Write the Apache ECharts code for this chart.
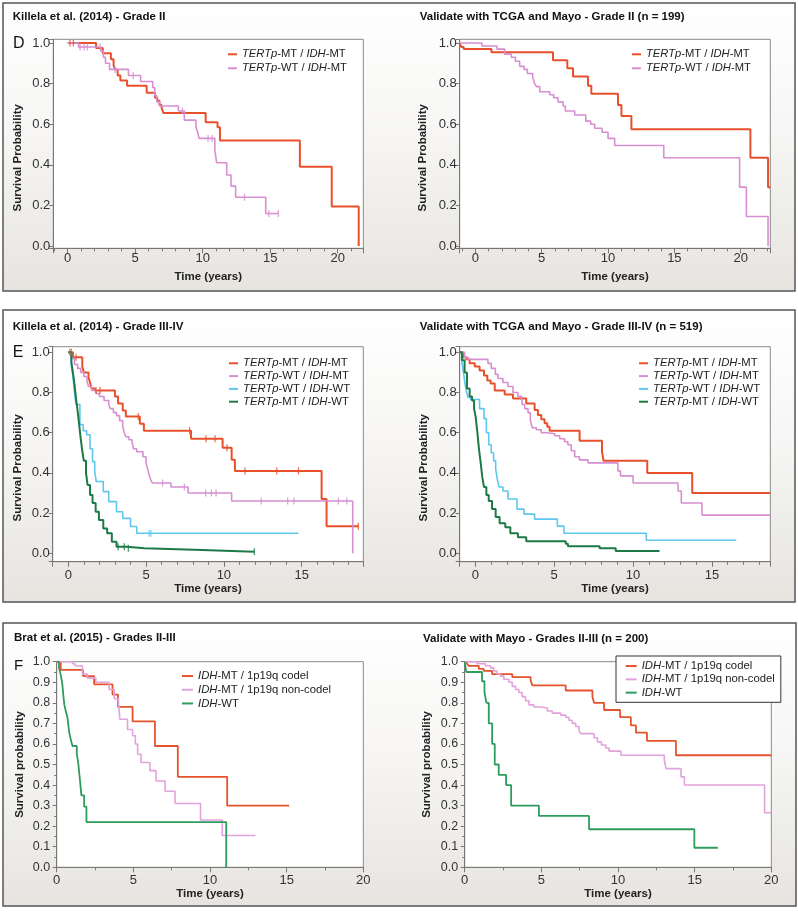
<!DOCTYPE html>
<html><head><meta charset="utf-8">
<script src="https://cdn.jsdelivr.net/npm/echarts@6/dist/echarts.min.js"></script>
<style>html,body{margin:0;padding:0;background:#fff}#c{width:798px;height:912px}</style>
</head><body><div id="c"></div>
<script>
const FONT = '"Liberation Sans", Arial, Helvetica, sans-serif';

// ---------- titles / labels ----------
const panelTitles = [
  'Killela et al. (2014) - Grade II', 'Validate with TCGA and Mayo - Grade II (n = 199)',
  'Killela et al. (2014) - Grade III-IV', 'Validate with TCGA and Mayo - Grade III-IV (n = 519)',
  'Brat et al. (2015) - Grades II-III', 'Validate with Mayo - Grades II-III (n = 200)'
];
const panelLetters = ['D', 'E', 'F'];
const xName = 'Time (years)';
const yNameDE = 'Survival Probability';
const yNameF = 'Survival probability';
const namesDE = ['TERTp-MT / IDH-MT', 'TERTp-WT / IDH-MT', 'TERTp-WT / IDH-WT', 'TERTp-MT / IDH-WT'];
const namesF = ['IDH-MT / 1p19q codel', 'IDH-MT / 1p19q non-codel', 'IDH-WT'];

// ---------- D left: Killela Grade II ----------
const D_L_MT = [[0,1],[2.1,0.975],[2.6,0.95],[3.2,0.92],[3.4,0.89],[3.5,0.87],[3.7,0.84],[3.9,0.815],[4.4,0.79],[5.85,0.755],[6.47,0.73],[6.64,0.715],[6.8,0.695],[6.96,0.68],[7.09,0.655],[10.22,0.61],[11.1,0.585],[11.28,0.52],[17.2,0.39],[19.56,0.195],[21.56,0.0]];
const D_L_WT = [[0,1],[0.8,0.98],[2.45,0.96],[2.65,0.93],[2.8,0.9],[3.1,0.87],[4.5,0.84],[5.4,0.81],[6.3,0.78],[6.45,0.74],[6.6,0.71],[6.8,0.69],[8.2,0.665],[8.64,0.62],[9.5,0.585],[9.63,0.56],[9.73,0.53],[10.9,0.47],[11.04,0.41],[11.78,0.35],[12.1,0.295],[12.44,0.24],[14.67,0.16],[15.6,0.16]];
const D_L_MT_CENS = [[0.17,1],[0.42,1]];
const D_L_WT_CENS = [[0.91,0.98],[1.23,0.98],[1.46,0.98],[2.4,0.98],[3.5,0.87],[4.86,0.84],[8.5,0.665],[10.4,0.53],[10.7,0.53],[13.1,0.24],[14.9,0.16],[15.6,0.16]];

// ---------- D right: TCGA+Mayo Grade II ----------
const D_R_MT = [[-1.18,1],[-1.06,0.98],[-0.88,0.97],[1.21,0.955],[5.85,0.915],[6.93,0.875],[7.36,0.835],[8.49,0.79],[8.74,0.75],[10.75,0.695],[11.01,0.64],[11.76,0.575],[20.73,0.435],[22.06,0.29],[22.23,0.29]];
const D_R_WT = [[-1.18,1],[0.5,0.985],[1.63,0.97],[2.21,0.945],[2.71,0.93],[3.02,0.91],[3.34,0.885],[3.67,0.87],[3.92,0.85],[4.32,0.83],[4.47,0.8],[4.6,0.785],[4.85,0.76],[5.6,0.745],[5.9,0.73],[6.23,0.71],[6.61,0.69],[6.78,0.665],[7.49,0.645],[8.32,0.615],[8.69,0.6],[8.99,0.58],[9.55,0.56],[10.0,0.53],[10.5,0.495],[14.2,0.435],[19.92,0.29],[20.43,0.145],[22.06,0.0]];

// ---------- E left: Killela Grade III-IV ----------
const E_L_MT = [[0,1],[0.3,0.975],[0.9,0.93],[1.0,0.9],[1.3,0.875],[1.4,0.85],[1.5,0.82],[1.7,0.81],[3.0,0.78],[3.2,0.745],[3.5,0.71],[3.7,0.68],[4.6,0.645],[4.86,0.61],[7.89,0.57],[9.92,0.525],[10.5,0.465],[10.71,0.41],[16.28,0.27],[16.6,0.135],[18.64,0.135]];
const E_L_WT = [[0,1],[0.2,0.97],[0.4,0.94],[0.6,0.92],[0.8,0.9],[1.0,0.88],[1.2,0.86],[1.3,0.83],[1.5,0.81],[1.8,0.795],[2.0,0.78],[2.3,0.76],[2.6,0.74],[2.7,0.72],[2.9,0.7],[3.1,0.685],[3.3,0.66],[3.5,0.63],[3.6,0.6],[3.7,0.58],[3.9,0.565],[4.1,0.55],[4.2,0.52],[4.4,0.505],[4.8,0.48],[5.0,0.45],[5.1,0.42],[5.2,0.39],[5.3,0.365],[5.4,0.35],[6.6,0.33],[7.7,0.3],[10.5,0.26],[18.28,0.0]];
const E_L_WTWT = [[0,1],[0.2,0.93],[0.3,0.88],[0.4,0.8],[0.5,0.74],[0.75,0.64],[0.96,0.61],[1.18,0.59],[1.4,0.52],[1.56,0.456],[1.7,0.406],[1.8,0.357],[2.25,0.307],[2.6,0.257],[3.1,0.207],[3.5,0.174],[4.0,0.133],[4.4,0.1],[14.78,0.1]];
const E_L_MTWT = [[0,1],[0.2,0.95],[0.3,0.9],[0.4,0.84],[0.5,0.77],[0.6,0.71],[0.7,0.64],[0.8,0.57],[0.9,0.51],[1.0,0.46],[1.14,0.4],[1.24,0.34],[1.4,0.29],[1.56,0.25],[1.76,0.207],[1.97,0.166],[2.25,0.124],[2.5,0.1],[2.8,0.058],[3.1,0.033],[3.75,0.025],[4.9,0.017],[8.6,0.008],[11.96,0.008]];
const E_L_MT_CENS = [[0.1,1],[0.2,1],[0.5,0.975],[1.78,0.81],[2.04,0.81],[4.5,0.68],[7.8,0.61],[8.85,0.57],[9.43,0.57],[10.2,0.525],[11.36,0.41],[13.4,0.41],[14.8,0.41],[18.64,0.135]];
const E_L_WT_CENS = [[6.06,0.35],[7.46,0.33],[8.83,0.3],[9.2,0.3],[9.5,0.3],[12.4,0.26],[14.1,0.26],[14.5,0.26],[17.36,0.26],[17.9,0.26]];
const E_L_WTWT_CENS = [[5.19,0.1],[5.31,0.1]];
const E_L_MTWT_CENS = [[3.2,0.033],[3.6,0.033],[3.86,0.025],[11.96,0.008]];

// ---------- E right: TCGA+Mayo Grade III-IV ----------
const E_R_MT = [[-1,1],[-0.78,0.975],[-0.57,0.965],[-0.36,0.945],[-0.04,0.93],[0.27,0.91],[0.55,0.885],[0.76,0.86],[0.97,0.845],[1.23,0.81],[1.86,0.79],[2.39,0.77],[3.23,0.745],[3.76,0.713],[3.97,0.688],[4.18,0.667],[4.39,0.647],[4.56,0.63],[4.71,0.61],[6.61,0.56],[8.03,0.506],[8.13,0.46],[10.9,0.40],[13.75,0.30],[18.7,0.30]];
const E_R_WT = [[-1,1],[-0.68,0.975],[-0.46,0.965],[0.8,0.945],[1.01,0.92],[1.27,0.89],[1.44,0.87],[1.75,0.85],[2.07,0.83],[2.39,0.8],[2.7,0.78],[2.96,0.74],[3.13,0.72],[3.34,0.7],[3.49,0.66],[3.61,0.625],[3.87,0.615],[4.18,0.6],[4.6,0.595],[5.03,0.585],[5.35,0.57],[5.66,0.555],[5.87,0.54],[6.08,0.51],[6.3,0.48],[6.6,0.465],[7.14,0.45],[9.04,0.41],[9.2,0.385],[10.0,0.35],[12.85,0.31],[13.06,0.25],[14.37,0.19],[18.7,0.19]];
const E_R_WTWT = [[-1,1],[-0.85,0.95],[-0.75,0.9],[-0.65,0.84],[-0.55,0.8],[-0.46,0.775],[-0.3,0.765],[0.27,0.72],[0.55,0.67],[0.7,0.6],[0.85,0.54],[1.01,0.5],[1.16,0.46],[1.29,0.42],[1.39,0.37],[1.5,0.33],[1.75,0.31],[2.07,0.27],[2.64,0.22],[3.08,0.195],[3.76,0.17],[5.2,0.135],[5.62,0.1],[10.84,0.065],[16.54,0.065]];
const E_R_MTWT = [[-1,1],[-0.85,0.96],[-0.68,0.9],[-0.53,0.82],[-0.36,0.78],[-0.21,0.76],[-0.08,0.72],[0.02,0.68],[0.13,0.6],[0.23,0.52],[0.34,0.45],[0.44,0.38],[0.55,0.33],[0.7,0.29],[0.85,0.26],[1.06,0.22],[1.29,0.18],[1.54,0.15],[1.9,0.13],[2.22,0.1],[2.7,0.08],[3.23,0.06],[5.73,0.048],[5.87,0.035],[7.88,0.025],[8.9,0.012],[11.68,0.012]];

// ---------- F left: Brat Grades II-III ----------
const F_L_CODEL = [[0,1],[0.26,0.96],[1.72,0.93],[2.44,0.89],[3.64,0.84],[4.0,0.78],[4.95,0.71],[6.41,0.59],[7.9,0.44],[11.12,0.30],[15.16,0.30]];
const F_L_NONCODEL = [[0,1],[1.03,0.99],[1.2,0.98],[1.68,0.94],[2.0,0.92],[2.55,0.9],[3.42,0.865],[3.75,0.82],[4.03,0.8],[4.12,0.72],[4.62,0.67],[4.95,0.64],[5.13,0.6],[5.28,0.55],[5.5,0.51],[6.08,0.47],[6.48,0.42],[7.07,0.37],[7.72,0.31],[9.38,0.23],[10.8,0.155],[12.96,0.155]];
const F_L_WT = [[0,1],[0.15,0.97],[0.28,0.93],[0.37,0.89],[0.44,0.83],[0.5,0.79],[0.59,0.76],[0.7,0.73],[0.81,0.66],[0.92,0.62],[1.03,0.59],[1.31,0.55],[1.4,0.51],[1.53,0.415],[1.61,0.35],[1.79,0.295],[1.94,0.22],[11.06,0.0]];

// ---------- F right: Mayo Grades II-III ----------
const F_R_CODEL = [[0,1],[0.15,0.99],[0.26,0.98],[0.92,0.965],[1.24,0.955],[1.79,0.94],[3.1,0.925],[4.3,0.91],[4.41,0.885],[6.59,0.86],[8.33,0.83],[8.44,0.8],[9.09,0.765],[10.14,0.73],[10.84,0.69],[11.17,0.655],[11.89,0.615],[13.78,0.545],[20,0.545]];
const F_R_NONCODEL = [[0,1],[0.8,0.99],[1.35,0.98],[1.68,0.97],[1.9,0.955],[2.1,0.94],[2.33,0.93],[2.55,0.915],[2.88,0.9],[3.1,0.88],[3.32,0.865],[3.53,0.85],[3.75,0.83],[3.97,0.81],[4.19,0.79],[4.51,0.78],[4.95,0.775],[5.39,0.76],[5.71,0.75],[6.26,0.74],[6.59,0.73],[6.8,0.715],[7.02,0.7],[7.24,0.685],[7.46,0.665],[7.57,0.65],[8.44,0.63],[8.66,0.61],[8.92,0.595],[9.2,0.58],[9.42,0.565],[10.19,0.545],[13.02,0.52],[13.13,0.48],[14.11,0.44],[14.33,0.4],[19.56,0.265],[20,0.265]];
const F_R_WT = [[0,1],[0.1,0.95],[1.13,0.905],[1.29,0.85],[1.42,0.8],[1.57,0.7],[1.79,0.6],[1.96,0.5],[2.22,0.45],[2.7,0.4],[3.03,0.3],[4.84,0.25],[8.11,0.185],[14.98,0.095],[16.51,0.095]];

// ---------- colours ----------
const C_RED = '#e8502b', C_PINK = '#d78fd1', C_BLUE = '#5ec8ec', C_DGREEN = '#1d7a47';
const C_FRED = '#e5532d', C_FPINK = '#e2a3dc', C_FGREEN = '#2e9c5c';

// ---------- chart ----------
const chart = echarts.init(document.getElementById('c'), null, {renderer: 'canvas', width: 798, height: 912});

const grids = [
  {left: 53.3, top: 39.3, width: 310, height: 209},
  {left: 459.7, top: 39.3, width: 310.6, height: 209},
  {left: 52.7, top: 346.7, width: 310.6, height: 215},
  {left: 459.7, top: 346.7, width: 310.6, height: 215},
  {left: 56.7, top: 661.7, width: 306.6, height: 205.6},
  {left: 464.7, top: 661.7, width: 306.6, height: 205.6}
].map(g => Object.assign({show: true, backgroundColor: '#fff', borderColor: '#8a8a8a', borderWidth: 1, containLabel: false}, g));

const AX = '#777';
function xAx(gi, min, max, nameGap, margin, minorSplit) {
  return {
    type: 'value', gridIndex: gi, min: min, max: max, minInterval: 5, maxInterval: 5,
    axisLine: {show: true, onZero: false, lineStyle: {color: AX, width: 1}},
    axisTick: {show: true, length: 5, lineStyle: {color: AX}},
    minorTick: {show: true, splitNumber: minorSplit, length: 3, lineStyle: {color: AX}},
    splitLine: {show: false}, minorSplitLine: {show: false},
    axisLabel: {margin: margin, fontFamily: FONT, fontSize: 13, color: '#333',
      formatter: v => { const k = Math.round(v / 5); return Math.abs(v - k * 5) < 1e-6 ? String(k * 5) : ''; }},
    name: xName, nameLocation: 'middle', nameGap: nameGap,
    nameTextStyle: {fontFamily: FONT, fontWeight: 'bold', fontSize: 11.5, color: '#222'}
  };
}
function yAx(gi, min, max, step, name, nameGap, margin, minor, pad, fs) {
  return {
    type: 'value', gridIndex: gi, min: min, max: max, minInterval: step, maxInterval: step,
    axisLine: {show: true, onZero: false, lineStyle: {color: AX, width: 1}},
    axisTick: {show: true, length: 4, lineStyle: {color: AX}},
    minorTick: {show: minor > 0, splitNumber: minor || 2, length: 2.5, lineStyle: {color: AX}},
    splitLine: {show: false}, minorSplitLine: {show: false},
    axisLabel: {margin: margin, fontFamily: FONT, fontSize: fs, color: '#333',
      formatter: v => { const k = Math.round(v / step); return Math.abs(v - k * step) < 1e-6 ? (k * step).toFixed(1) : ''; }},
    name: name, nameLocation: 'middle', nameGap: nameGap,
    nameTextStyle: {fontFamily: FONT, fontWeight: 'bold', fontSize: 11.5, color: '#222', padding: pad}
  };
}

const xAxes = [
  xAx(0, -1.067, 21.9, 23, 4, 5),
  xAx(1, -1.18, 22.23, 23, 4, 5),
  xAx(2, -1.0, 18.96, 20, 7, 5),
  xAx(3, -0.99, 18.7, 20, 7, 5),
  xAx(4, 0, 20, 21, 7, 2),
  xAx(5, 0, 20, 21, 7, 2)
];
const yAxes = [
  yAx(0, -0.0113, 1.0182, 0.2, yNameDE, 29, 3, 0, [0, 28, 0, 0], 13),
  yAx(1, -0.0113, 1.0182, 0.2, yNameDE, 30.5, 3, 0, [0, 28, 0, 0], 13),
  yAx(2, -0.0418, 1.0279, 0.2, yNameDE, 28.5, 3, 0, [0, 27, 0, 0], 13),
  yAx(3, -0.0418, 1.0279, 0.2, yNameDE, 30, 3, 0, [0, 27, 0, 0], 13),
  yAx(4, 0, 1, 0.1, yNameF, 30.5, 6.5, 2, [0, 0, 0, 0], 12.5),
  yAx(5, 0, 1, 0.1, yNameF, 31.5, 6.5, 2, [0, 0, 0, 0], 12.5)
];

function km(name, data, gi, color, width) {
  return {type: 'line', name: name, data: data, xAxisIndex: gi, yAxisIndex: gi, step: 'end',
    showSymbol: false, symbol: 'none', lineStyle: {color: color, width: width}, itemStyle: {color: color},
    silent: true, animation: false, clip: true, z: 3};
}
function cens(tag, data, gi, color) {
  return {type: 'scatter', name: tag, data: data, xAxisIndex: gi, yAxisIndex: gi, symbol: 'rect',
    symbolSize: [1.3, 7], itemStyle: {color: color}, silent: true, animation: false, z: 4};
}

const series = [
  km(namesDE[0], D_L_MT, 0, C_RED, 2), km(namesDE[1], D_L_WT, 0, C_PINK, 1.6),
  cens('c0a', D_L_MT_CENS, 0, C_RED), cens('c0b', D_L_WT_CENS, 0, C_PINK),
  km(namesDE[0], D_R_MT, 1, C_RED, 2), km(namesDE[1], D_R_WT, 1, C_PINK, 1.6),
  km(namesDE[0], E_L_MT, 2, C_RED, 2), km(namesDE[1], E_L_WT, 2, C_PINK, 1.6),
  km(namesDE[2], E_L_WTWT, 2, C_BLUE, 1.6), km(namesDE[3], E_L_MTWT, 2, C_DGREEN, 2),
  cens('c2a', E_L_MT_CENS, 2, C_RED), cens('c2b', E_L_WT_CENS, 2, C_PINK),
  cens('c2c', E_L_WTWT_CENS, 2, C_BLUE), cens('c2d', E_L_MTWT_CENS, 2, C_DGREEN),
  km(namesDE[0], E_R_MT, 3, C_RED, 2), km(namesDE[1], E_R_WT, 3, C_PINK, 1.6),
  km(namesDE[2], E_R_WTWT, 3, C_BLUE, 1.6), km(namesDE[3], E_R_MTWT, 3, C_DGREEN, 2),
  km(namesF[0], F_L_CODEL, 4, C_FRED, 1.8), km(namesF[1], F_L_NONCODEL, 4, C_FPINK, 1.6),
  km(namesF[2], F_L_WT, 4, C_FGREEN, 1.8),
  km(namesF[0], F_R_CODEL, 5, C_FRED, 1.8), km(namesF[1], F_R_NONCODEL, 5, C_FPINK, 1.6),
  km(namesF[2], F_R_WT, 5, C_FGREEN, 1.8)
];

const fmt = n => n.replace(/TERTp/g, '{i|TERTp}').replace(/IDH/g, '{i|IDH}');
function leg(names, left, top, lh, iw, fs, extra) {
  return Object.assign({
    data: names, left: left, top: top, orient: 'vertical', icon: 'rect', itemWidth: iw, itemHeight: 2,
    itemGap: 0, padding: 0, selectedMode: false, formatter: fmt,
    textStyle: {fontFamily: FONT, fontSize: fs, color: '#222', lineHeight: lh,
      rich: {i: {fontFamily: FONT, fontSize: fs, fontStyle: 'italic', color: '#222', lineHeight: lh}}}
  }, extra || {});
}
const legends = [
  leg(namesDE.slice(0, 2), 228, 47.3, 14, 9, 11.2),
  leg(namesDE.slice(0, 2), 632, 47.3, 14, 9, 11.2),
  leg(namesDE, 229, 356.9, 12.8, 9, 11.3),
  leg(namesDE, 639, 356.9, 12.8, 9, 11.3),
  leg(namesF, 182, 669.2, 13.7, 11, 11.3),
  leg(namesF, 616, 656, 13.3, 11, 11.3, {padding: [3.4, 6, 3, 9.7], borderColor: '#333', borderWidth: 1, backgroundColor: '#fff'})
];

const boxGrad = () => new echarts.graphic.LinearGradient(0, 0, 0, 1, [
  {offset: 0, color: '#ffffff'}, {offset: 0.45, color: '#f7f6f4'}, {offset: 1, color: '#e7e4e0'}]);
const boxes = [[3, 3, 792, 288], [3, 310, 792, 292], [3, 623, 793, 283]];
const graphics = boxes.map(b => ({type: 'rect', z: -10, silent: true,
  shape: {x: b[0], y: b[1], width: b[2], height: b[3]},
  style: {fill: boxGrad(), stroke: '#555', lineWidth: 1.5}}));
const titlePos = [[12.7, 16.7], [419.7, 16.7], [12.7, 326.7], [419.7, 326.7], [14, 638.3], [423, 639.3]];
panelTitles.forEach((t, i) => graphics.push({type: 'text', z: 5, silent: true,
  style: {text: t, x: titlePos[i][0], y: titlePos[i][1], fill: '#111', font: 'bold 11.5px ' + FONT,
    align: 'left', verticalAlign: 'middle'}}));
const letterPos = [[13, 43.5, 16], [12.7, 352.5, 16], [14, 666.3, 15]];
panelLetters.forEach((t, i) => graphics.push({type: 'text', z: 5, silent: true,
  style: {text: t, x: letterPos[i][0], y: letterPos[i][1], fill: '#111', font: letterPos[i][2] + 'px ' + FONT,
    align: 'left', verticalAlign: 'middle'}}));

chart.setOption({
  animation: false,
  backgroundColor: '#fff',
  textStyle: {fontFamily: FONT},
  grid: grids,
  xAxis: xAxes,
  yAxis: yAxes,
  legend: legends,
  series: series,
  graphic: graphics
});
</script></body></html>
